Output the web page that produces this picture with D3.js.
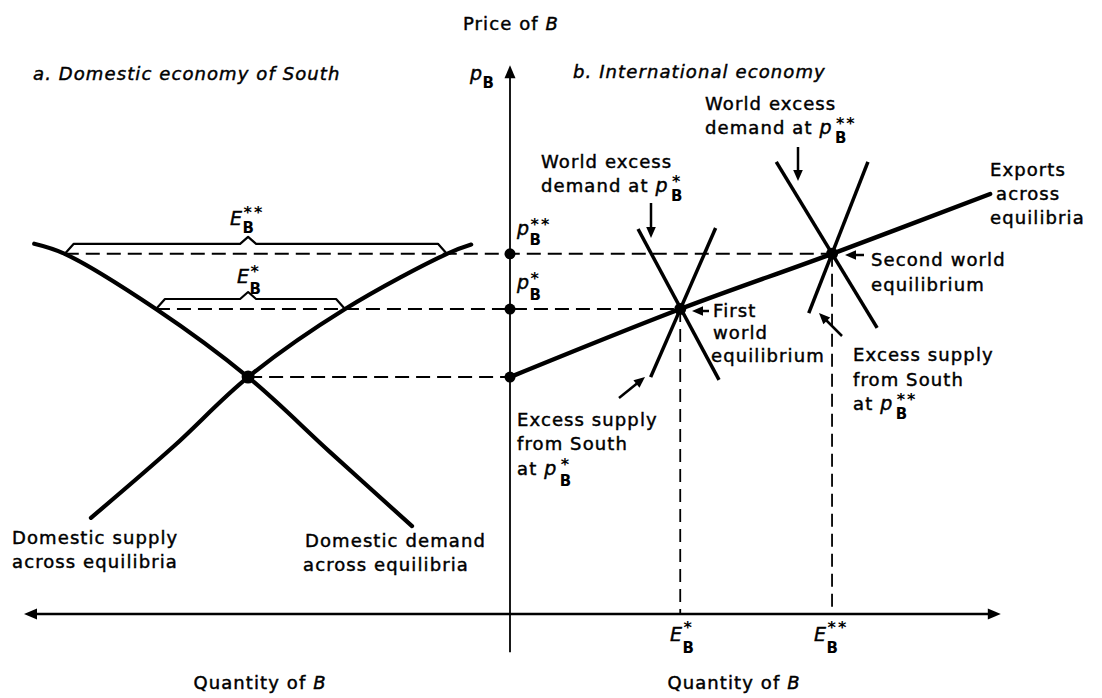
<!DOCTYPE html>
<html><head><meta charset="utf-8">
<script src="https://cdn.jsdelivr.net/npm/d3@7"></script>
<style>
html,body{margin:0;padding:0;background:#fff;}
svg{display:block;}
text{font-family:"DejaVu Sans",sans-serif;fill:#000;letter-spacing:1.1px;stroke:#000;stroke-width:0.45px;}
</style></head><body>
<svg id="c" width="1102" height="698"></svg>
<script>
// ---------- data (abstract price / quantity units) ----------
const priceLevels = [5.15, 6.63, 7.83];          // autarky p, p*, p**
const equilibriumQty = [3.51, 6.64];              // E*, E**
const autarkyQty = -5.40;                         // domestic X point (left panel)
const demandCurve = [[-9.81,8.05],[-9.18,7.83],[-7.30,6.63],[-5.40,5.15],[-3.71,3.52],[-2.02,1.91]];
const supplyCurve = [[-8.64,2.09],[-6.95,3.63],[-5.40,5.15],[-3.40,6.63],[-1.30,7.83],[-0.80,8.03]];
const exportsCurve = [[0,5.15],[3.51,6.63],[6.64,7.83],[9.90,9.13]];
const excessDemand1 = [[2.64,8.37],[4.31,5.09]];
const excessSupply1 = [[2.90,5.15],[4.24,8.39]];
const excessDemand2 = [[5.49,9.83],[7.57,6.22]];
const excessSupply2 = [[7.38,9.83],[6.16,6.54]];
const quantityAxis = [-10.02, 10.12];
const priceAxis = [-0.83, 11.93];

// ---------- scales ----------
const svg = d3.select("#c");
const x = d3.scaleLinear().domain([-10, 10]).range([25, 995]);
const y = d3.scaleLinear().domain([0, 12]).range([614, 62]);
const line = d3.line().x(d => x(d[0])).y(d => y(d[1]));
const smooth = d3.line().x(d => x(d[0])).y(d => y(d[1])).curve(d3.curveCatmullRom.alpha(0.5));

// ---------- helpers ----------
function arrowHead(x1, y1, x2, y2, len, hw) {
  const a = Math.atan2(y2 - y1, x2 - x1);
  const bx = x2 - len * Math.cos(a), by = y2 - len * Math.sin(a);
  const px = -Math.sin(a) * hw, py = Math.cos(a) * hw;
  svg.append("path").attr("d", `M${x2},${y2}L${bx+px},${by+py}L${bx-px},${by-py}Z`).attr("fill", "#000");
}
function arrow(x1, y1, x2, y2) {
  const a = Math.atan2(y2 - y1, x2 - x1);
  svg.append("line").attr("x1", x1).attr("y1", y1).attr("x2", x2 - 6*Math.cos(a)).attr("y2", y2 - 6*Math.sin(a))
    .attr("stroke", "#000").attr("stroke-width", 2.5);
  arrowHead(x1, y1, x2, y2, 11, 4.8);
}
function txt(str, x0, yb, opt) {
  opt = opt || {};
  const t = svg.append("text").attr("x", x0).attr("y", yb).attr("font-size", opt.fs || 18).text(str);
  if (opt.italic) t.attr("font-style", "italic");
  return t;
}
// one text element: optional prefix, italic letter, subscript B, stars stacked above B
function sym(x0, yb, prefix, letter, stars, opt) {
  opt = opt || {};
  const sub = opt.sub || 9, sup = opt.sup || 5;
  const t = svg.append("text").attr("x", x0).attr("y", yb).attr("font-size", 18);
  if (prefix) t.append("tspan").text(prefix + " ");
  t.append("tspan").attr("font-size", 19).attr("font-style", "italic").style("letter-spacing", "0px").text(letter);
  const bx = x0 + t.node().getComputedTextLength() + 0.5 + (prefix ? 3 : 0);
  t.append("tspan").attr("x", bx).attr("dy", sub).attr("font-size", 15).attr("font-weight", "bold")
    .style("letter-spacing", "0px").style("stroke-width", "0px").text("B");
  if (stars) t.append("tspan").attr("x", bx + 1).attr("dy", -(sub + sup)).attr("font-size", 16)
    .attr("font-weight", "bold").style("letter-spacing", "2px").style("stroke-width", "0px").text(stars);
  return t;
}

// ---------- axes ----------
svg.append("line").attr("x1", x(quantityAxis[0]) + 8).attr("x2", x(quantityAxis[1]) - 8)
  .attr("y1", y(0)).attr("y2", y(0)).attr("stroke", "#000").attr("stroke-width", 2.6);
arrowHead(x(0), y(0), x(quantityAxis[0]), y(0), 13, 5.5);
arrowHead(x(0), y(0), x(quantityAxis[1]), y(0), 13, 5.5);
svg.append("line").attr("x1", x(0)).attr("x2", x(0)).attr("y1", y(priceAxis[0])).attr("y2", y(priceAxis[1]) + 8)
  .attr("stroke", "#000").attr("stroke-width", 1.8);
arrowHead(x(0), y(0), x(0), y(priceAxis[1]), 13, 5.5);

// ---------- dashed guides ----------
const dashH = [
  [autarkyQty, 0, priceLevels[0]],
  [demandCurve[2][0], equilibriumQty[0], priceLevels[1]],
  [demandCurve[1][0], equilibriumQty[1], priceLevels[2]]
];
dashH.forEach(d => svg.append("line").attr("x1", x(d[0])).attr("x2", x(d[1])).attr("y1", y(d[2])).attr("y2", y(d[2]))
  .attr("stroke", "#000").attr("stroke-width", 2).attr("stroke-dasharray", "14,7"));
equilibriumQty.forEach((q, i) => svg.append("line").attr("x1", x(q)).attr("x2", x(q))
  .attr("y1", y(priceLevels[i + 1])).attr("y2", y(0))
  .attr("stroke", "#000").attr("stroke-width", 1.8).attr("stroke-dasharray", "13,7"));

// ---------- brackets (E*, E**) ----------
[[demandCurve[2][0], supplyCurve[3][0], priceLevels[1]], [demandCurve[1][0], supplyCurve[4][0], priceLevels[2]]]
  .forEach(b => {
    const xl = x(b[0]), xr = x(b[1]), yb = y(b[2]), xm = x(autarkyQty);
    svg.append("path").attr("d",
      `M${xl+1},${yb-1}L${xl+9},${yb-10}L${xm-8},${yb-10}L${xm},${yb-17}L${xm+8},${yb-10}L${xr-9},${yb-10}L${xr-1},${yb-1}`)
      .attr("fill", "none").attr("stroke", "#000").attr("stroke-width", 2.2).attr("stroke-linejoin", "round");
  });

// ---------- curves ----------
svg.append("path").datum(demandCurve).attr("d", smooth).attr("fill", "none").attr("stroke", "#000").attr("stroke-width", 4.2).attr("stroke-linecap", "round");
svg.append("path").datum(supplyCurve).attr("d", smooth).attr("fill", "none").attr("stroke", "#000").attr("stroke-width", 4.2).attr("stroke-linecap", "round");
svg.append("path").datum(exportsCurve).attr("d", smooth).attr("fill", "none").attr("stroke", "#000").attr("stroke-width", 4.4).attr("stroke-linecap", "round");
[excessDemand1, excessSupply1, excessDemand2, excessSupply2].forEach(s =>
  svg.append("path").datum(s).attr("d", line).attr("fill", "none").attr("stroke", "#000").attr("stroke-width", 3.5));

// ---------- dots ----------
priceLevels.forEach(p => svg.append("circle").attr("cx", x(0)).attr("cy", y(p)).attr("r", 5.5));
equilibriumQty.forEach((q, i) => svg.append("circle").attr("cx", x(q)).attr("cy", y(priceLevels[i + 1])).attr("r", 6));
svg.append("circle").attr("cx", x(autarkyQty)).attr("cy", y(priceLevels[0])).attr("r", 6.5);

// ---------- annotation arrows ----------
arrow(651, 203, 651, 238);
arrow(798, 147, 798, 181);
arrow(619, 398, 645, 377);
arrow(842, 336, 819, 313);
arrow(709, 311, 692, 311);
arrow(864, 255, 845, 255);

// ---------- text ----------
{
  const g = svg.append("text").attr("x", 511).attr("y", 30).attr("font-size", 18).attr("text-anchor", "middle");
  g.append("tspan").text("Price of ");
  g.append("tspan").attr("font-style", "italic").text("B");
}
sym(470, 80, null, "p", null, {sub: 8});

txt("a. Domestic economy of South", 33, 80, {italic: true});
txt("b. International economy", 573, 78, {italic: true});

txt("World excess", 705, 110);
sym(705, 134, "demand at", "p", "**", {sub: 9});
txt("World excess", 541, 168);
sym(541, 192, "demand at", "p", "*", {sub: 9});

txt("Exports", 990, 176);
txt("across", 996, 200);
txt("equilibria", 990, 224);

txt("Second world", 871, 266);
txt("equilibrium", 871, 291);

txt("First", 713, 317);
txt("world", 713, 339);
txt("equilibrium", 711, 362);

txt("Excess supply", 853, 361);
txt("from South", 853, 386);
sym(853, 410, "at", "p", "**", {sub: 9});

txt("Excess supply", 517, 426);
txt("from South", 517, 450);
sym(517, 475, "at", "p", "*", {sub: 11});

txt("Domestic supply", 12, 544);
txt("across equilibria", 12, 568);
txt("Domestic demand", 305, 547);
txt("across equilibria", 303, 571);

// axis-side symbols
sym(517, 235, null, "p", "**", {sub: 10});
sym(517, 289, null, "p", "*", {sub: 11});
sym(230, 225, null, "E", "**", {sub: 8, sup: 7});
sym(237, 283, null, "E", "*", {sub: 11, sup: 6});
sym(670, 641, null, "E", "*", {sub: 12, sup: 8});
sym(814, 641, null, "E", "**", {sub: 12, sup: 8});

// bottom titles
[[260, 689], [734, 689]].forEach(c => {
  const g = svg.append("text").attr("x", c[0]).attr("y", c[1]).attr("font-size", 18).attr("text-anchor", "middle");
  g.append("tspan").text("Quantity of ");
  g.append("tspan").attr("font-style", "italic").text("B");
});
</script>
</body></html>
